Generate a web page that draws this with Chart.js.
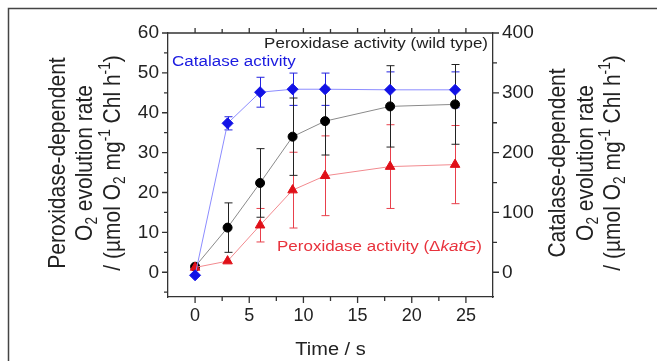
<!DOCTYPE html>
<html>
<head>
<meta charset="utf-8">
<script src="https://cdn.jsdelivr.net/npm/chart.js@4.4.1/dist/chart.umd.min.js"></script>
<style>
  body { margin: 0; background: #fff; }
  canvas { display: block; }
</style>
</head>
<body>
<canvas id="grafico" width="657" height="361"></canvas>
<script>
const tiempo = [0, 3, 6, 9, 12, 18, 24];
const peroxidasaWT = [1.4, 11.2, 22.4, 34.0, 37.9, 41.6, 42.1];
const errorWT = [0, 6.2, 8.6, 9.7, 8.5, 10.2, 10.0];
const peroxidasaKatG = [1.2, 2.8, 11.8, 20.6, 24.2, 26.5, 27.0];
const errorKatG = [0, 0, 4.2, 9.5, 10.0, 10.5, 9.8];
const catalasa = [-5, 249, 301, 306, 306, 305, 305];
const errorCatalasa = [0, 11, 25, 27, 27, 30, 30];

const ticksX = [0, 5, 10, 15, 20, 25];
const menoresX = [2.5, 7.5, 12.5, 17.5, 22.5];
const ticksY = [0, 10, 20, 30, 40, 50, 60];
const menoresY = [-5, 5, 15, 25, 35, 45, 55];
const ticksY2 = [0, 100, 200, 300, 400];
const menoresY2 = [50, 150, 250, 350];

const fuente = '"Liberation Sans", Arial, sans-serif';
const colorEje = '#333';

const puntos = (valores) => tiempo.map((t, i) => ({ x: t, y: valores[i] }));

// texto con subindices, superindices y cursiva, ya con el ctx posicionado
const dibujarPartes = (ctx, partes, size, align) => {
  const fontDe = (p) => `${p.it ? 'italic ' : ''}${p.sub || p.sup ? size * 0.65 : size}px ${fuente}`;
  const anchos = partes.map((p) => { ctx.font = fontDe(p); return ctx.measureText(p.t).width; });
  const total = anchos.reduce((a, b) => a + b, 0);
  let x = align === 'center' ? -total / 2 : align === 'right' ? -total : 0;
  ctx.textBaseline = 'alphabetic';
  ctx.textAlign = 'left';
  partes.forEach((p, i) => {
    ctx.font = fontDe(p);
    const dy = p.sub ? size * 0.22 : p.sup ? -size * 0.42 : 0;
    ctx.fillText(p.t, x, dy);
    x += anchos[i];
  });
};

const texto = (ctx, partes, { x, y, size, color, align = 'left', rot = false, esc = 1 }) => {
  ctx.save();
  ctx.translate(x, y);
  if (rot) ctx.rotate(-Math.PI / 2);
  ctx.scale(1, esc);
  ctx.fillStyle = color;
  dibujarPartes(ctx, partes, size, align);
  ctx.restore();
};

const titulo3 = [{ t: '/ (µmol O' }, { t: '2', sub: true }, { t: ' mg' }, { t: '-1', sup: true }, { t: ' Chl h' }, { t: '-1', sup: true }, { t: ')' }];
const titulo2 = [{ t: 'O' }, { t: '2', sub: true }, { t: ' evolution rate' }];

const marco = {
  id: 'marco',
  beforeDatasetsDraw(chart) {
    const ctx = chart.ctx;
    ctx.save();
    ctx.lineWidth = 1;
    chart.data.datasets.forEach((ds, i) => {
      const meta = chart.getDatasetMeta(i);
      const escala = chart.scales[ds.yAxisID];
      ctx.strokeStyle = ds.colorError;
      ds.data.forEach((p, j) => {
        const e = ds.errores[j];
        if (!e) return;
        const px = Math.round(meta.data[j].x) + 0.5;
        const arriba = escala.getPixelForValue(p.y + e);
        const abajo = escala.getPixelForValue(p.y - e);
        ctx.beginPath();
        ctx.moveTo(px, arriba);
        ctx.lineTo(px, abajo);
        ctx.moveTo(px - 4, arriba);
        ctx.lineTo(px + 4, arriba);
        ctx.moveTo(px - 4, abajo);
        ctx.lineTo(px + 4, abajo);
        ctx.stroke();
      });
    });
    ctx.restore();
  },
  afterDraw(chart) {
    const ctx = chart.ctx;
    const { left, right, top, bottom } = chart.chartArea;
    const sx = chart.scales.x, sy = chart.scales.y, sy2 = chart.scales.y2;

    ctx.save();
    ctx.strokeStyle = colorEje;
    ctx.lineWidth = 1.3;
    ctx.beginPath();
    ctx.moveTo(left, top);
    ctx.lineTo(right, top);
    const marca = (lista, largo, fn) => lista.forEach((v) => fn(v, largo));
    const xAbajo = (v, l) => { const p = sx.getPixelForValue(v); ctx.moveTo(p, bottom); ctx.lineTo(p, bottom + l); };
    const xArriba = (v, l) => { const p = sx.getPixelForValue(v); ctx.moveTo(p, top); ctx.lineTo(p, top - l); };
    const yIzq = (v, l) => { const p = sy.getPixelForValue(v); ctx.moveTo(left, p); ctx.lineTo(left - l, p); };
    const yDer = (v, l) => { const p = sy2.getPixelForValue(v); ctx.moveTo(right, p); ctx.lineTo(right + l, p); };
    marca(ticksX, 6, xAbajo); marca(menoresX, 4, xAbajo);
    marca(ticksX, 5, xArriba); marca(menoresX, 4, xArriba);
    marca(ticksY, 6, yIzq); marca(menoresY, 4, yIzq);
    marca(ticksY2, 6, yDer); marca(menoresY2, 4, yDer);
    ctx.stroke();

    // recuadro exterior
    ctx.lineWidth = 1.5;
    ctx.strokeStyle = '#444';
    ctx.strokeRect(8.5, 8.5, 700, 400);
    ctx.restore();

    // titulos de ejes
    const cy = (top + bottom) / 2 - 2;
    texto(ctx, [{ t: 'Peroxidase-dependent' }], { x: 65, y: cy, size: 21, color: '#222', align: 'center', rot: true, esc: 1.15 });
    texto(ctx, titulo2, { x: 92, y: cy, size: 21, color: '#222', align: 'center', rot: true, esc: 1.15 });
    texto(ctx, titulo3, { x: 120, y: cy, size: 21, color: '#222', align: 'center', rot: true, esc: 1.15 });
    texto(ctx, [{ t: 'Catalase-dependent' }], { x: 565, y: cy, size: 21, color: '#222', align: 'center', rot: true, esc: 1.15 });
    texto(ctx, titulo2, { x: 593, y: cy, size: 21, color: '#222', align: 'center', rot: true, esc: 1.15 });
    texto(ctx, titulo3, { x: 620, y: cy, size: 21, color: '#222', align: 'center', rot: true, esc: 1.15 });
    texto(ctx, [{ t: 'Time / s' }], { x: (left + right) / 2, y: 355, size: 20, color: '#222', align: 'center', esc: 0.9 });

    // etiquetas de las series
    texto(ctx, [{ t: 'Catalase activity' }], { x: 172, y: 66, size: 17, color: '#1a1ae0', esc: 0.87 });
    texto(ctx, [{ t: 'Peroxidase activity (wild type)' }], { x: 488, y: 48, size: 17, color: '#222', align: 'right', esc: 0.87 });
    texto(ctx, [{ t: 'Peroxidase activity (Δ' }, { t: 'katG', it: true }, { t: ')' }], { x: 482, y: 251, size: 17, color: '#e8323c', align: 'right', esc: 0.87 });
  }
};

const ejeBase = (min, max, pos, lista, ancho) => ({
  type: 'linear',
  position: pos,
  min,
  max,
  afterBuildTicks: (s) => { s.ticks = lista.map((v) => ({ value: v })); },
  afterFit: (s) => { if (ancho) s.width = ancho; },
  grid: { display: false, drawTicks: false },
  border: { display: true, color: colorEje, width: 1.3 },
  ticks: { autoSkip: false, maxRotation: 0, padding: 9, color: '#222', font: { family: fuente, size: 19 } }
});

const escalaX = ejeBase(-2.5, 27.5, 'bottom', ticksX, 0);
escalaX.afterFit = (s) => { s.height = 64; };
escalaX.ticks.font = { family: fuente, size: 18 };
escalaX.ticks.padding = 8;

new Chart(document.getElementById('grafico'), {
  type: 'line',
  data: {
    datasets: [
      {
        label: 'Catalase activity', data: puntos(catalasa), yAxisID: 'y2', errores: errorCatalasa, colorError: '#2323e0',
        borderColor: '#8c8cff', borderWidth: 1, pointStyle: 'rectRot', pointRadius: 5.5,
        pointBackgroundColor: '#1212e6', pointBorderColor: '#1212e6'
      },
      {
        label: 'Peroxidase activity (ΔkatG)', data: puntos(peroxidasaKatG), yAxisID: 'y', errores: errorKatG, colorError: '#e8404c',
        borderColor: '#f28a8f', borderWidth: 1, pointStyle: 'triangle', pointRadius: 5.5,
        pointBackgroundColor: '#e01018', pointBorderColor: '#e01018'
      },
      {
        label: 'Peroxidase activity (wild type)', data: puntos(peroxidasaWT), yAxisID: 'y', errores: errorWT, colorError: '#222',
        borderColor: '#8a8a8a', borderWidth: 1, pointStyle: 'circle', pointRadius: 4.5,
        pointBackgroundColor: '#000', pointBorderColor: '#000'
      }
    ]
  },
  options: {
    responsive: false,
    animation: false,
    layout: { padding: { top: 33, left: 0, right: 0, bottom: 0 } },
    plugins: { legend: { display: false }, tooltip: { enabled: false } },
    scales: {
      x: escalaX,
      y: ejeBase(-6.2, 60, 'left', ticksY, 168),
      y2: ejeBase(-6.2 * 400 / 60, 400, 'right', ticksY2, 164)
    }
  },
  plugins: [marco]
});
</script>
</body>
</html>
